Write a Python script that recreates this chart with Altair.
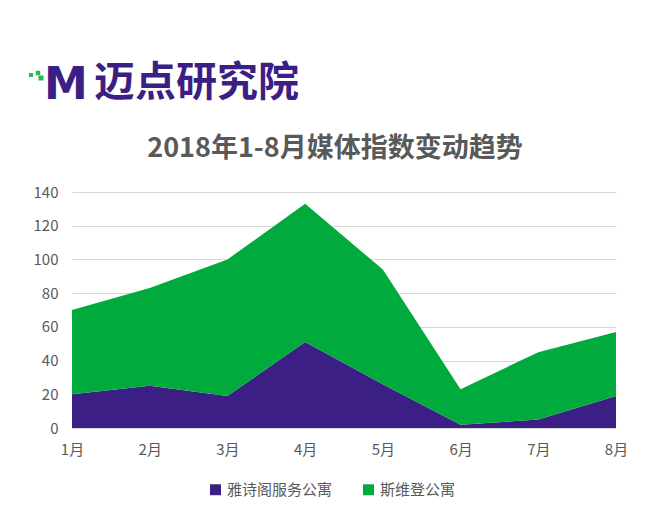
import altair as alt
import pandas as pd

months = ["1月", "2月", "3月", "4月", "5月", "6月", "7月", "8月"]
series_names = ["雅诗阁服务公寓", "斯维登公寓"]
yashige = [20, 25, 19, 51, 26, 2, 5, 19]
siweideng = [50, 58, 81, 82, 68, 21, 40, 38]
colors = ["#3b1f84", "#00aa3c"]
title_text = "2018年1-8月媒体指数变动趋势"
logo_text = "迈点研究院"

rows = []
for i, m in enumerate(months):
    rows.append({"month": m, "series": series_names[0], "value": yashige[i], "ord": 0})
    rows.append({"month": m, "series": series_names[1], "value": siweideng[i], "ord": 1})
df = pd.DataFrame(rows)

FONT = "Noto Sans CJK SC"

area = alt.Chart(df).mark_area(opacity=1, line=False).encode(
    x=alt.X("month:O", sort=months, title=None,
            scale=alt.Scale(padding=0),
            axis=alt.Axis(labelAngle=0, labelFontSize=15, labelColor="#595959",
                          labelFont=FONT, ticks=False, domain=True,
                          domainColor="#d9d9d9", labelPadding=14, grid=False)),
    y=alt.Y("value:Q", stack="zero", title=None,
            scale=alt.Scale(domain=[0, 140]),
            axis=alt.Axis(values=list(range(0, 141, 20)), labelFontSize=15,
                          labelColor="#595959", labelFont=FONT, ticks=False,
                          domain=False, gridColor="#d9d9d9", labelPadding=14)),
    color=alt.Color("series:N", scale=alt.Scale(domain=series_names, range=colors),
                    legend=alt.Legend(orient="none", legendX=136, legendY=290,
                                      direction="horizontal", title=None,
                                      symbolType="square", symbolSize=120,
                                      labelFontSize=15, labelColor="#595959",
                                      labelFont=FONT, columnPadding=28,
                                      symbolStrokeWidth=0)),
    order=alt.Order("ord:Q"),
)

one = pd.DataFrame({"t": [logo_text]})
title = alt.Chart(one).mark_text(
    text=title_text, font=FONT, fontSize=27, fontWeight="bold",
    color="#595959", align="center", baseline="middle"
).encode(x=alt.value(263), y=alt.value(-43))
logo_m = alt.Chart(one).mark_text(
    text="M", font="DejaVu Sans", fontWeight="bold",
    fontSize=44, color="#3b1f84", align="center", baseline="middle"
).encode(x=alt.value(-6), y=alt.value(-106))
logo_t = alt.Chart(one).mark_text(
    font=FONT, fontWeight="bold", fontSize=41, color="#3b1f84",
    align="left", baseline="middle"
).encode(text="t:N", x=alt.value(22), y=alt.value(-108))
dot_a = alt.Chart(one).mark_square(color="#2db84b", size=16, opacity=1).encode(
    x=alt.value(-41), y=alt.value(-117))
dot_b = alt.Chart(one).mark_square(color="#2db84b", size=20, opacity=1).encode(
    x=alt.value(-34), y=alt.value(-119))
dot_c = alt.Chart(one).mark_square(color="#2db84b", size=25, opacity=1).encode(
    x=alt.value(-31), y=alt.value(-114))

chart = alt.layer(area, title, logo_m, logo_t, dot_a, dot_b, dot_c).properties(
    width=544, height=236,
    background="white",
    autosize=alt.AutoSizeParams(type="none"),
    padding={"left": 64, "top": 184, "right": 26, "bottom": 70},
).configure_view(stroke="transparent")

chart.save("out.html", embed_options={"renderer": "svg", "actions": False})
